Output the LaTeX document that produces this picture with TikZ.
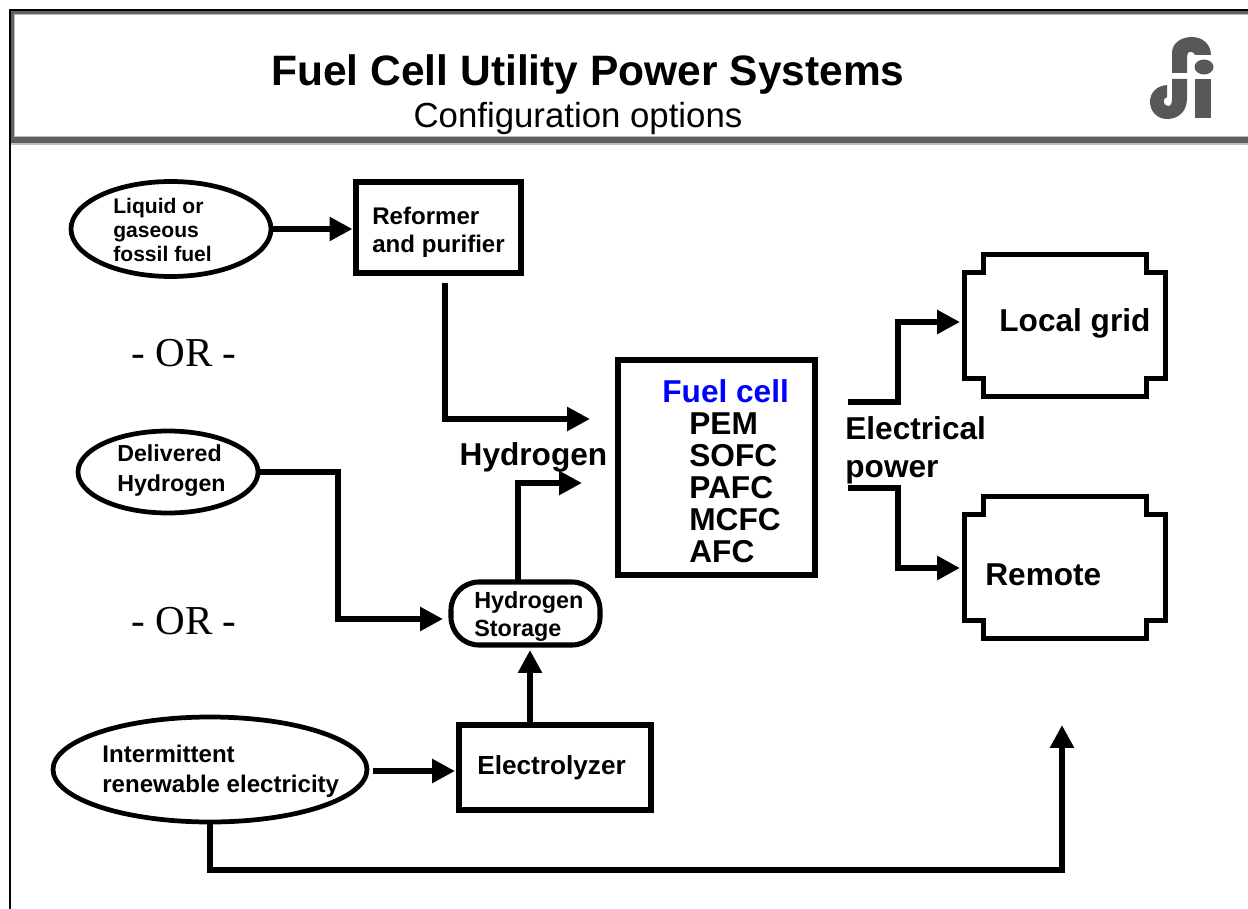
\documentclass[tikz,border=0pt]{standalone}
\usepackage{fontspec}
\setmainfont{Liberation Sans}
\newfontfamily\orfont{Liberation Serif}
\usetikzlibrary{arrows.meta, calc, positioning, shapes.geometric}
\definecolor{bandgray}{RGB}{96,96,96}
\definecolor{edgegray}{RGB}{190,190,190}
\definecolor{logogray}{RGB}{88,88,88}
\definecolor{fcblue}{RGB}{0,0,255}
\tikzset{
  srcoval/.style={draw=black, line width=2.7pt, ellipse, inner sep=0pt, outer sep=0pt},
  procbox/.style={draw=black, line width=2.9pt, inner sep=0pt, outer sep=0pt},
  loadbox/.style={minimum width=200*0.02cm, minimum height=141*0.02cm, inner sep=0pt},
  boxtext/.style 2 args={anchor=west, align=left, inner sep=0pt, font=\fontsize{#1}{#2}\selectfont\bfseries},
  biglabel/.style={font=\fontsize{18}{21.5}\selectfont\bfseries, align=left, inner sep=0pt},
  orlabel/.style={font=\orfont\fontsize{23.4}{26}\selectfont, inner sep=0pt},
  flowarr/.style={-{Triangle[length=13pt,width=13pt]}, line width=3.3pt, black},
}
\begin{document}
\begin{tikzpicture}[x=0.02cm, y=-0.02cm]
\useasboundingbox (0,0) rectangle (1248,909);

% =====================================================================
%  HEADER
% =====================================================================
\fill[bandgray] (10,10) rectangle (1248,144);
\fill[edgegray] (14,14) rectangle (1248,137);
\fill[white] (15,15) rectangle (1248,136);
\fill[edgegray] (11,143.5) rectangle (1248,145);
\draw[black, line width=1.2pt] (10,909) -- (10,10) -- (1248,10);

\node[font=\fontsize{24.2}{28}\selectfont\bfseries, inner sep=0pt] (title) at (588,74.5) {Fuel Cell Utility Power Systems};
\node[font=\fontsize{19.8}{24}\selectfont, inner sep=0pt] (subtitle) at (578,119) {Configuration options};

% logo
\fill[logogray] (1172,73) -- (1172,53) .. controls (1172,43) and (1181,37) .. (1192,37)
  .. controls (1203,37) and (1211,45) .. (1211,55) -- (1195,55)
  .. controls (1194,51) and (1187,50) .. (1187,56) -- (1187,73) -- cycle;
\fill[logogray] (1204,67) ellipse (9.5 and 7.5);
\fill[logogray] (1195,79) rectangle (1211,118);
\fill[logogray] (1172,79) -- (1187,79) -- (1187,98)
  .. controls (1187,112) and (1178,119) .. (1167,119)
  .. controls (1157,119) and (1150,111) .. (1150,102)
  .. controls (1150,93) and (1156,86) .. (1167,85) -- (1167,97)
  .. controls (1162,98) and (1163,106) .. (1168,106)
  .. controls (1171,106) and (1172,103) .. (1172,99) -- cycle;

% =====================================================================
%  SOURCES AND PROCESSES
% =====================================================================
\node[srcoval, minimum width=200*0.02cm, minimum height=95*0.02cm] (fossil) at (171,229) {};
\node[boxtext={12}{13.9}] (fossiltext) at (113,230) {Liquid or\\gaseous\\fossil fuel};
\node[procbox, minimum width=165*0.02cm, minimum height=91*0.02cm] (reformer) at (438.5,227.5) {};
\node[boxtext={13.7}{15.9}] (reformertext) at (372,232) {Reformer\\and purifier};
\node[srcoval, minimum width=180*0.02cm, minimum height=82*0.02cm] (delivered) at (168,472) {};
\node[boxtext={13.2}{17}] (deliveredtext) at (117,470.5) {Delivered\\Hydrogen};
\node[srcoval, minimum width=314*0.02cm, minimum height=105*0.02cm] (renewable) at (210,769.5) {};
\node[boxtext={13.7}{17}] (renewabletext) at (102,771) {Intermittent\\renewable electricity};
\node[procbox, rounded corners=28*0.02cm, minimum width=149*0.02cm, minimum height=63*0.02cm] (storage) at (525.5,613.5) {};
\node[boxtext={13.3}{16}] (storagetext) at (474,616.5) {Hydrogen\\Storage};
\node[procbox, minimum width=192*0.02cm, minimum height=85*0.02cm] (electrolyzer) at (555,767.5) {};
\node[boxtext={14.9}{18}] (electrolyzertext) at (477,768) {Electrolyzer};
\node[procbox, minimum width=197*0.02cm, minimum height=215*0.02cm] (fuelcell) at (716.5,467.5) {};
\node[boxtext={18}{18.2}, anchor=north west] (fctext) at (689,379) {\makebox[0pt][l]{\hspace*{-0.54cm}\textcolor{fcblue}{Fuel cell}}\\PEM\\SOFC\\PAFC\\MCFC\\AFC};

% =====================================================================
%  LOADS
% =====================================================================
\node[loadbox] (grid) at (1065,325.5) {};
\node[biglabel, anchor=west] (gridtext) at (999,323) {Local grid};
\node[loadbox] (remote) at (1065,567.5) {};
\node[biglabel, anchor=west] (remotetext) at (985,575) {Remote};
\foreach \boxname in {grid, remote} {
  \draw[black, line width=2.9pt]
    ($(\boxname.north west)+(19,0)$) -- ($(\boxname.north east)+(-19,0)$)
    -- ++(0,18) -- ++(19,0) -- ($(\boxname.south east)+(0,-18)$) -- ++(-19,0) -- ++(0,18)
    -- ($(\boxname.south west)+(19,0)$) -- ++(0,-18) -- ++(-19,0)
    -- ($(\boxname.north west)+(0,18)$) -- ++(19,0) -- cycle;
}

% labels
\node[orlabel] (or1) at (184,353) {- OR -};
\node[orlabel] (or2) at (184,621) {- OR -};
\node[biglabel] (hydrogen) at (533.5,457) {Hydrogen};
\node[biglabel, anchor=north west] (power) at (845,416.5) {Electrical\\power};

% =====================================================================
%  CONNECTORS
% =====================================================================
\coordinate (fcin1) at (590,419);
\coordinate (fcin2) at (582,483);
\coordinate (storin) at (443,619);
\coordinate (storunder) at (530,650);
\coordinate (elecup) at (530,722);
\coordinate (refout) at (445,283);
\coordinate (renewout) at (373,771);
\coordinate (elecin) at (455,771);
\coordinate (storout) at (518,582);
\coordinate (fcup) at (848,402);
\coordinate (fcdown) at (848,488);
\coordinate (gridin) at (960,322);
\coordinate (remotein) at (960,568);
\coordinate (returnend) at (1062,725);

\draw[flowarr] (fossil.east) -- ([xshift=-2]reformer.west |- fossil.east);
\draw[flowarr] (refout) |- (fcin1);
\draw[flowarr] (delivered.east) -- ++(80,0) |- (storin);
\draw[flowarr] (storout) |- (fcin2);
\draw[flowarr] (elecup) -- (storunder);
\draw[flowarr] (renewout) -- (elecin);
\draw[flowarr] (renewable.south) |- (1062,870) -- (returnend);
\draw[flowarr] (fcup) -| (898,322) -- (gridin);
\draw[flowarr] (fcdown) -| (898,568) -- (remotein);
\end{tikzpicture}
\end{document}
